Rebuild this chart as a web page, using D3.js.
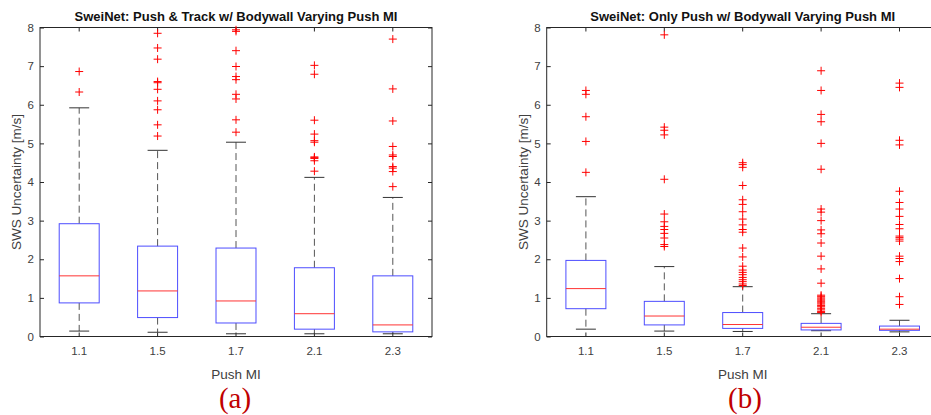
<!DOCTYPE html>
<html>
<head>
<meta charset="utf-8">
<script src="https://cdn.jsdelivr.net/npm/d3@7"></script>
<style>
  body { margin:0; background:#fff; }
  svg { display:block; }
  .tick text { font-family:"Liberation Sans", Arial, sans-serif; font-size:11.5px; fill:#404040; }
  .tick line { stroke:#262626; }
  .label { font-family:"Liberation Sans", Arial, sans-serif; font-size:13.5px; fill:#404040; }
  .title { font-family:"Liberation Sans", Arial, sans-serif; font-size:13px; font-weight:bold; fill:#111; }
  .sub { font-family:"Liberation Serif", "DejaVu Serif", serif; font-size:29px; fill:#c00000; }
</style>
</head>
<body>
<div id="chart"></div>
<script>
const categories = ["1.1", "1.5", "1.7", "2.1", "2.3"];
const yTicks = [0, 1, 2, 3, 4, 5, 6, 7, 8];

// (a) push & track
const qLowA = [0.87, 0.49, 0.35, 0.19, 0.12];
const medianA = [1.57, 1.18, 0.92, 0.59, 0.30];
const qHighA = [2.92, 2.34, 2.29, 1.78, 1.57];
const whiskerLowA = [0.14, 0.11, 0.07, 0.07, 0.07];
const whiskerHighA = [5.92, 4.82, 5.03, 4.12, 3.60];
const outliersA = [
  [6.86, 6.33],
  [7.85, 7.47, 7.18, 6.60, 6.57, 6.40, 6.10, 5.87, 5.48, 5.19],
  [7.94, 7.90, 7.40, 6.99, 6.73, 6.65, 6.27, 6.15, 5.61, 5.29],
  [7.02, 6.79, 5.60, 5.24, 5.07, 5.03, 4.65, 4.63, 4.61, 4.55, 4.28],
  [7.70, 6.41, 5.58, 4.92, 4.70, 4.66, 4.40, 4.36, 4.27, 3.88]
];

// (b) only push
const qLowB = [0.72, 0.30, 0.21, 0.17, 0.16];
const medianB = [1.24, 0.53, 0.31, 0.24, 0.19];
const qHighB = [1.97, 0.91, 0.62, 0.34, 0.27];
const whiskerLowB = [0.19, 0.14, 0.13, 0.15, 0.12];
const whiskerHighB = [3.62, 1.81, 1.29, 0.59, 0.42];
const outliersB = [
  [6.37, 6.27, 5.69, 5.05, 4.25],
  [7.81, 5.42, 5.34, 5.22, 4.07, 3.17, 2.97, 2.85, 2.77, 2.67, 2.55, 2.38, 2.33],
  [4.50, 4.45, 4.38, 3.91, 3.54, 3.42, 3.23, 3.04, 2.89, 2.77, 2.70, 2.29, 2.06, 1.82, 1.72, 1.66, 1.60, 1.53, 1.47, 1.42, 1.36, 1.32],
  [6.88, 6.37, 5.75, 5.56, 5.00, 4.33, 3.30, 3.22, 3.00, 2.76, 2.66, 2.42, 2.08, 1.75, 1.38, 1.07, 1.04, 1.00, 0.97, 0.94, 0.90, 0.87, 0.84, 0.80, 0.77, 0.73, 0.69, 0.65, 0.62],
  [6.56, 6.45, 5.08, 4.96, 3.76, 3.47, 3.30, 3.11, 2.90, 2.79, 2.60, 2.56, 2.52, 2.47, 2.08, 2.02, 1.94, 1.50, 1.03, 0.83]
];

let width = 931, height = 415;
let svg = d3.select("#chart").append("svg").attr("width", width).attr("height", height)

function panel(opt){
  let innerW = 392, innerH = 309,
      g = svg.append("g").attr("transform", `translate(${opt.left},27.5)`)

  let xScale = d3.scaleBand().domain(categories).range([0, innerW]),
      yScale = d3.scaleLinear().domain([0, 8]).range([innerH, 0]),
      cx = c => xScale(c) + xScale.bandwidth() / 2,
      boxW = xScale.bandwidth() * 0.51,
      capW = boxW / 2;

  let rows = categories.map((c, i) => ({
    c, lo: opt.lo[i], q1: opt.q1[i], med: opt.med[i], q3: opt.q3[i], hi: opt.hi[i], out: opt.out[i]
  }))

  // axes, ticks pointing inward like matlab
  let xAxis = d3.axisBottom(xScale).tickSize(-4).tickSizeOuter(0).tickPadding(10)
  let yAxis = d3.axisLeft(yScale).tickValues(yTicks).tickSize(-4).tickSizeOuter(0).tickPadding(6)
  g.append("g").attr("transform", `translate(0,${innerH})`).call(xAxis).select(".domain").remove()
  g.append("g").call(yAxis).select(".domain").remove()
  g.append("g").call(d3.axisTop(xScale).tickSize(-4).tickSizeOuter(0).tickFormat("")).select(".domain").remove()
  g.append("g").attr("transform", `translate(${innerW},0)`)
    .call(d3.axisRight(yScale).tickValues(yTicks).tickSize(-4).tickSizeOuter(0).tickFormat("")).select(".domain").remove()
  g.append("rect").attr("width", innerW).attr("height", innerH)
    .attr("fill", "none").attr("stroke", "#262626").attr("stroke-width", 1)

  let box = g.selectAll(".box").data(rows).enter().append("g").attr("class", "box")

  // whiskers
  box.append("line").attr("x1", d => cx(d.c)).attr("x2", d => cx(d.c))
    .attr("y1", d => yScale(d.q3)).attr("y2", d => yScale(d.hi))
    .attr("stroke", "#555").attr("stroke-dasharray", "7,4")
  box.append("line").attr("x1", d => cx(d.c)).attr("x2", d => cx(d.c))
    .attr("y1", d => yScale(d.q1)).attr("y2", d => yScale(d.lo))
    .attr("stroke", "#555").attr("stroke-dasharray", "7,4")
  box.append("line").attr("x1", d => cx(d.c) - capW / 2).attr("x2", d => cx(d.c) + capW / 2)
    .attr("y1", d => yScale(d.hi)).attr("y2", d => yScale(d.hi)).attr("stroke", "#333")
  box.append("line").attr("x1", d => cx(d.c) - capW / 2).attr("x2", d => cx(d.c) + capW / 2)
    .attr("y1", d => yScale(d.lo)).attr("y2", d => yScale(d.lo)).attr("stroke", "#333")

  box.append("rect").attr("x", d => cx(d.c) - boxW / 2).attr("width", boxW)
    .attr("y", d => yScale(d.q3)).attr("height", d => yScale(d.q1) - yScale(d.q3))
    .attr("fill", "none").attr("stroke", "#4d4dff")
  box.append("line").attr("x1", d => cx(d.c) - boxW / 2).attr("x2", d => cx(d.c) + boxW / 2)
    .attr("y1", d => yScale(d.med)).attr("y2", d => yScale(d.med)).attr("stroke", "#ff3333")

  // outliers as red +
  let pts = rows.flatMap(d => d.out.map(v => ({ c: d.c, v })))
  g.selectAll(".out").data(pts).enter().append("path").attr("class", "out")
    .attr("d", d => `M${cx(d.c) - 4},${yScale(d.v)}h8M${cx(d.c)},${yScale(d.v) - 4}v8`)
    .attr("stroke", "#ff0000").attr("fill", "none")

  g.append("text").attr("class", "title").attr("x", innerW / 2).attr("y", -7).attr("text-anchor", "middle").text(opt.title)
  g.append("text").attr("class", "label").attr("x", innerW / 2).attr("y", innerH + 42).attr("text-anchor", "middle").text("Push MI")
  g.append("text").attr("class", "label").attr("transform", `translate(-19,${innerH / 2}) rotate(-90)`)
    .attr("text-anchor", "middle").text("SWS Uncertainty [m/s]")
  g.append("text").attr("class", "sub").attr("x", opt.subX - opt.left).attr("y", innerH + 71).attr("text-anchor", "middle").text(opt.sub)
}

panel({ left: 40, title: "SweiNet: Push & Track w/ Bodywall Varying Push MI", sub: "(a)", subX: 235,
  lo: whiskerLowA, q1: qLowA, med: medianA, q3: qHighA, hi: whiskerHighA, out: outliersA })
panel({ left: 546.7, title: "SweiNet: Only Push w/ Bodywall Varying Push MI", sub: "(b)", subX: 745,
  lo: whiskerLowB, q1: qLowB, med: medianB, q3: qHighB, hi: whiskerHighB, out: outliersB })
</script>
</body>
</html>
